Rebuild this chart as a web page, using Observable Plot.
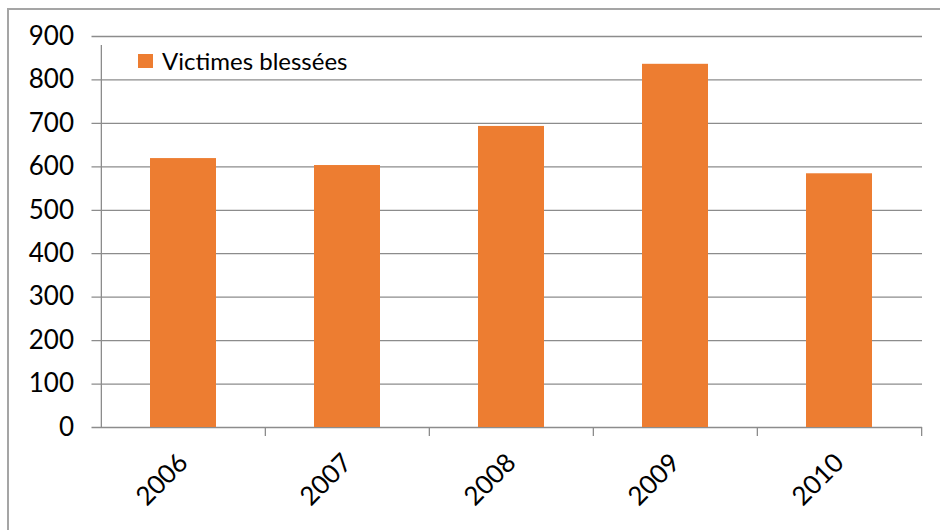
<!DOCTYPE html>
<html><head><meta charset="utf-8">
<script src="https://cdn.jsdelivr.net/npm/d3@7"></script>
<script src="https://cdn.jsdelivr.net/npm/@observablehq/plot@0.6"></script>
<style>
body{margin:0;background:#fff;font-family:Lato, sans-serif}
#wrap{position:relative;width:940px;height:530px;overflow:hidden;background:#fff}
#border{position:absolute;left:7px;top:8px;right:-10px;bottom:-10px;border-left:2px solid #a5a5a5;border-top:2px solid #a5a5a5;pointer-events:none}
#legend{position:absolute;left:138px;top:46px;font-size:24px;display:flex;align-items:center;color:#000;font-family:Lato, sans-serif}
#legend .sw{display:inline-block;width:15px;height:14px;background:#ED7D31;margin-right:9px}
#chart{position:absolute;left:0;top:0}
</style></head><body>
<div id="wrap"><div id="chart"></div><div id="border"></div><div id="legend"><span class="sw"></span>Victimes blessées</div></div>
<script>
const years = ["2006", "2007", "2008", "2009", "2010"];
const injured = [619, 603, 693, 836, 584];
const yTicks = [0, 100, 200, 300, 400, 500, 600, 700, 800, 900];
const seriesName = "Victimes blessées";

const data = years.map((y, i) => ({year: y, value: injured[i]}));
const W = 940, H = 530, ML = 100.5, MR = 18, MT = 36, MB = 103;
const step = (W - ML - MR) / years.length;
const grey = "#8c8c8c";

const chart = Plot.plot({
  width: W, height: H,
  marginLeft: ML, marginRight: MR, marginTop: MT, marginBottom: MB,
  style: {fontFamily: "Lato, sans-serif", color: "#000", background: "transparent"},
  x: {domain: years, paddingInner: 0.6, paddingOuter: 0.3},
  y: {domain: [0, 900]},
  marks: [
    Plot.ruleY(yTicks, {y: d => d, stroke: grey, strokeWidth: 1.3, insetLeft: -9}),
    Plot.barY(data, {x: "year", y: "value", fill: "#ED7D31"}),
    Plot.ruleX(years, {x: d => d, y1: () => 0, y2: (d, i) => i === 0 ? 900 : 0, dx: -step / 2, insetBottom: -9, stroke: grey, strokeWidth: 1.3}),
    Plot.ruleX([years[years.length - 1]], {x: d => d, y1: () => 0, y2: () => 0, dx: step / 2, insetBottom: -9, stroke: grey, strokeWidth: 1.3}),
    Plot.axisY(yTicks, {tickSize: 0, tickPadding: 27, fontSize: 26, label: null}),
    Plot.axisX({tickSize: 0, tickPadding: 31, tickRotate: -45, fontSize: 26, label: null})
  ]
});
document.getElementById("chart").appendChild(chart);
</script>
</body></html>
